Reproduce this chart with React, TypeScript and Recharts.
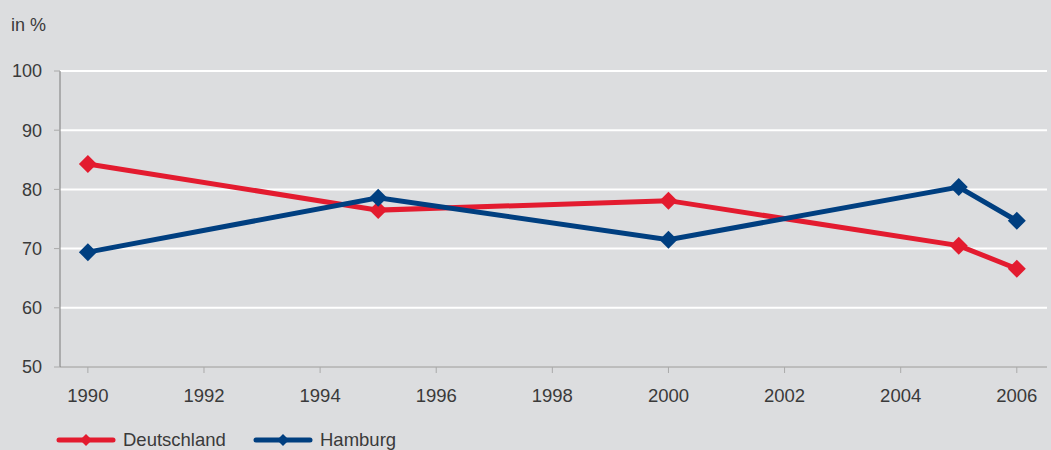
import React from 'react';
import { LineChart, Line, XAxis, YAxis, CartesianGrid, Legend } from 'recharts';

const years = [1990, 1995, 2000, 2005, 2006];
const deutschland = [84.3, 76.5, 78.1, 70.5, 66.6];
const hamburg = [69.4, 78.6, 71.5, 80.4, 74.7];
const xTicks = [1990, 1992, 1994, 1996, 1998, 2000, 2002, 2004, 2006];
const yTicks = [50, 60, 70, 80, 90, 100];

const RED = '#e31b2f';
const BLUE = '#003f80';
const FONT = '"Liberation Sans", Arial, sans-serif';
const TXT = '#3a3a3a';

const data = years.map((year, i) => ({
  year,
  Deutschland: deutschland[i],
  Hamburg: hamburg[i],
}));

const Diamond = (color: string) => (props: any) => {
  const { cx, cy } = props;
  if (cx == null || cy == null) return null;
  const r = 9;
  return (
    <polygon
      key={`d-${cx}-${cy}`}
      points={`${cx},${cy - r} ${cx + r},${cy} ${cx},${cy + r} ${cx - r},${cy}`}
      fill={color}
    />
  );
};

const LegendContent = () => {
  const items = [
    { name: 'Deutschland', color: RED, left: 56 },
    { name: 'Hamburg', color: BLUE, left: 253 },
  ];
  return (
    <div style={{ position: 'relative', height: 24 }}>
      {items.map((it) => (
        <div key={it.name} style={{ position: 'absolute', left: it.left, top: 0, display: 'flex', alignItems: 'center' }}>
          <svg width={60} height={14}>
            <line x1={3} y1={7} x2={57} y2={7} stroke={it.color} strokeWidth={5} strokeLinecap="round" />
            <polygon points="30,1 36,7 30,13 24,7" fill={it.color} />
          </svg>
          <span style={{ marginLeft: 7, fontSize: 18.5, color: TXT, fontFamily: FONT }}>{it.name}</span>
        </div>
      ))}
    </div>
  );
};

const App: React.FC = () => {
  return (
    <div style={{ position: 'absolute', left: 0, top: 0, width: 1051, height: 450, background: '#dcdddf', overflow: 'hidden' }}>
      <div style={{ position: 'absolute', left: 11, top: 15, fontSize: 18, color: TXT, fontFamily: FONT }}>in %</div>
      <LineChart width={1051} height={450} data={data} margin={{ top: 71, right: 4, left: 0, bottom: 29 }}>
        <CartesianGrid vertical={false} stroke="#ffffff" strokeWidth={2} />
        <XAxis
          dataKey="year"
          type="number"
          domain={[1989.52, 2006.52]}
          ticks={xTicks}
          height={30}
          tickMargin={16}
          tick={{ fill: TXT, fontSize: 18.5, fontFamily: FONT }}
          axisLine={{ stroke: '#7a7a7a' }}
          tickLine={{ stroke: '#aaaaaa' }}
          interval={0}
        />
        <YAxis
          domain={[50, 100]}
          ticks={yTicks}
          width={60}
          tickMargin={12}
          tick={{ fill: TXT, fontSize: 18, fontFamily: FONT }}
          axisLine={{ stroke: '#7a7a7a' }}
          tickLine={{ stroke: '#aaaaaa' }}
          interval={0}
        />
        <Legend
          content={<LegendContent />}
          wrapperStyle={{ position: 'absolute', left: 0, top: 429, width: 1051 }}
        />
        <Line
          dataKey="Deutschland"
          stroke={RED}
          strokeWidth={5}
          dot={Diamond(RED)}
          activeDot={false}
          isAnimationActive={false}
        />
        <Line
          dataKey="Hamburg"
          stroke={BLUE}
          strokeWidth={5}
          dot={Diamond(BLUE)}
          activeDot={false}
          isAnimationActive={false}
        />
      </LineChart>
    </div>
  );
};

export default App;
